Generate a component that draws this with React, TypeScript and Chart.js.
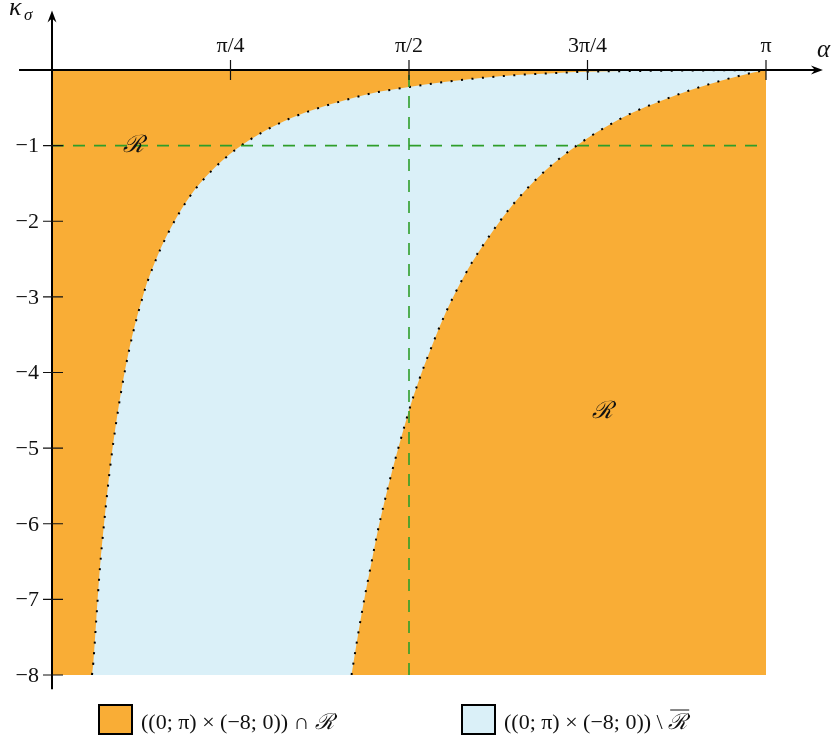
import React, { useEffect, useRef } from 'react';
import { Chart, registerables } from 'chart.js';

Chart.register(...registerables);

const PI = Math.PI;

// Boundary curves of the region
const leftCurveX = [0.176, 0.182, 0.195, 0.211, 0.229, 0.254, 0.286, 0.336, 0.406, 0.453, 0.512, 0.607, 0.700, 0.807, 0.924, 1.050, 1.184, 1.273, 1.409, 1.549, 1.734, 1.876, 2.064, 2.206, 2.345, 2.675, PI];
const leftCurveY = [-8, -7.83, -7.26, -6.58, -6.0, -5.3, -4.59, -3.75, -2.93, -2.54, -2.15, -1.67, -1.34, -1.055, -0.826, -0.637, -0.492, -0.413, -0.307, -0.235, -0.156, -0.108, -0.063, -0.042, -0.024, -0.01, 0];

const rightCurveX = [1.318, 1.329, 1.352, 1.377, 1.404, 1.431, 1.462, 1.496, 1.533, 1.572, 1.616, 1.665, 1.719, 1.779, 1.847, 1.923, 2.006, 2.099, 2.201, 2.311, 2.430, 2.553, 2.684, 2.817, 2.951, 3.086, PI];
const rightCurveY = [-8, -7.79, -7.37, -6.95, -6.54, -6.13, -5.72, -5.31, -4.9, -4.49, -4.09, -3.7, -3.3, -2.92, -2.55, -2.2, -1.86, -1.54, -1.25, -0.994, -0.764, -0.566, -0.403, -0.258, -0.135, -0.033, 0];

// Domain rectangle and reference lines
const domainX = [0, PI];
const domainTop = 0;
const domainBottom = -8;
const refLineY = -1;
const refLineX = PI / 2;

// Axes
const xAxisExtent = [-0.145, 3.392];
const yAxisExtent = [-8.19, 0.787];
const xTickValues = [PI / 4, PI / 2, (3 * PI) / 4, PI];
const xTickLabels = ['π/4', 'π/2', '3π/4', 'π'];
const yTickValues = [-1, -2, -3, -4, -5, -6, -7, -8];
const yTickLabels = ['−1', '−2', '−3', '−4', '−5', '−6', '−7', '−8'];

// Region labels
const regionLabelX = [0.36, 2.42];
const regionLabelY = [-1.0, -4.52];

const legendLabels = ['((0; π) × (−8; 0)) ∩ ', '((0; π) × (−8; 0)) \\ '];

const ORANGE = '#f9ad36';
const BLUE = '#daf0f8';
const GREEN = '#2e9e2a';
const SERIF = '"Liberation Serif", "DejaVu Serif", serif';
const SCRIPT_R = 'ℛ';

const toPoints = (xs: number[], ys: number[]) => xs.map((x, i) => ({ x, y: ys[i] }));

const decorPlugin = {
  id: 'decor',
  afterDraw(chart: any) {
    const { ctx, scales } = chart;
    const sx = scales.x;
    const sy = scales.y;
    const px = (v: number) => sx.getPixelForValue(v);
    const py = (v: number) => sy.getPixelForValue(v);
    ctx.save();

    const x0 = px(0);
    const y0 = py(0);

    // axis lines
    ctx.strokeStyle = '#000';
    ctx.lineWidth = 2;
    ctx.beginPath();
    ctx.moveTo(px(xAxisExtent[0]), y0);
    ctx.lineTo(px(xAxisExtent[1]) - 6, y0);
    ctx.moveTo(x0, py(yAxisExtent[0]));
    ctx.lineTo(x0, py(yAxisExtent[1]) + 6);
    ctx.stroke();

    // arrowheads
    ctx.fillStyle = '#000';
    const tipX = px(xAxisExtent[1]);
    ctx.beginPath();
    ctx.moveTo(tipX, y0);
    ctx.lineTo(tipX - 12, y0 - 4.5);
    ctx.lineTo(tipX - 8, y0);
    ctx.lineTo(tipX - 12, y0 + 4.5);
    ctx.closePath();
    ctx.fill();
    const tipY = py(yAxisExtent[1]);
    ctx.beginPath();
    ctx.moveTo(x0, tipY);
    ctx.lineTo(x0 - 4.5, tipY + 12);
    ctx.lineTo(x0, tipY + 8);
    ctx.lineTo(x0 + 4.5, tipY + 12);
    ctx.closePath();
    ctx.fill();

    // ticks
    ctx.lineWidth = 1.2;
    ctx.strokeStyle = '#111';
    ctx.beginPath();
    xTickValues.forEach((v) => {
      const x = px(v);
      ctx.moveTo(x, y0 - 10);
      ctx.lineTo(x, y0 + 10);
    });
    yTickValues.forEach((v) => {
      const y = py(v);
      ctx.moveTo(x0 - 9, y);
      ctx.lineTo(x0 + 11, y);
    });
    ctx.stroke();

    // tick labels
    ctx.fillStyle = '#111';
    ctx.font = `22px ${SERIF}`;
    ctx.textAlign = 'center';
    ctx.textBaseline = 'alphabetic';
    xTickValues.forEach((v, i) => {
      ctx.fillText(xTickLabels[i], px(v), y0 - 18);
    });
    ctx.textAlign = 'right';
    ctx.textBaseline = 'middle';
    yTickValues.forEach((v, i) => {
      ctx.fillText(yTickLabels[i], x0 - 13, py(v) + 1);
    });

    // axis titles
    ctx.textAlign = 'left';
    ctx.textBaseline = 'alphabetic';
    ctx.font = `italic 25px ${SERIF}`;
    ctx.fillText('α', px(xAxisExtent[1]) - 6, y0 - 13);
    ctx.font = `italic 26px ${SERIF}`;
    ctx.fillText('κ', 9, 15);
    ctx.font = `italic 17px ${SERIF}`;
    ctx.fillText('σ', 24, 20);

    // region labels
    ctx.textAlign = 'center';
    ctx.textBaseline = 'middle';
    ctx.font = `italic 24px "DejaVu Serif", serif`;
    regionLabelX.forEach((v, i) => {
      ctx.fillText(SCRIPT_R, px(v), py(regionLabelY[i]));
    });

    // legend
    const legendY = 705;
    const boxW = 33;
    const boxH = 29;
    const items = [
      { x: 99, color: ORANGE, label: legendLabels[0], bar: false },
      { x: 462, color: BLUE, label: legendLabels[1], bar: true },
    ];
    ctx.textAlign = 'left';
    ctx.textBaseline = 'alphabetic';
    items.forEach((it) => {
      ctx.fillStyle = it.color;
      ctx.fillRect(it.x, legendY, boxW, boxH);
      ctx.strokeStyle = '#000';
      ctx.lineWidth = 2;
      ctx.strokeRect(it.x, legendY, boxW, boxH);
      ctx.fillStyle = '#111';
      ctx.font = `22px ${SERIF}`;
      const tx = it.x + boxW + 9;
      const base = legendY + 24;
      ctx.fillText(it.label, tx, base);
      const w = ctx.measureText(it.label).width;
      ctx.font = `italic 22px "DejaVu Serif", serif`;
      ctx.fillText(SCRIPT_R, tx + w, base);
      if (it.bar) {
        const rw = ctx.measureText(SCRIPT_R).width;
        ctx.strokeStyle = '#111';
        ctx.lineWidth = 1;
        ctx.beginPath();
        ctx.moveTo(tx + w + 2, legendY + 5);
        ctx.lineTo(tx + w + rw + 2, legendY + 5);
        ctx.stroke();
      }
    });

    ctx.restore();
  },
};

export default function App() {
  const canvasRef = useRef<HTMLCanvasElement | null>(null);

  useEffect(() => {
    const canvas = canvasRef.current;
    if (!canvas) return;
    const dotted = {
      borderColor: '#000',
      borderWidth: 2,
      borderDash: [2, 8.5],
      borderCapStyle: 'butt',
      pointRadius: 0,
      cubicInterpolationMode: 'monotone',
    };
    const chart = new Chart(canvas, {
      type: 'line',
      data: {
        datasets: [
          {
            label: 'refH',
            data: [{ x: domainX[0], y: refLineY }, { x: domainX[1], y: refLineY }],
            borderColor: GREEN,
            borderWidth: 1.6,
            borderDash: [12, 9],
            pointRadius: 0,
            fill: false,
          },
          {
            label: 'refV',
            data: [{ x: refLineX, y: domainBottom }, { x: refLineX, y: domainTop }],
            borderColor: GREEN,
            borderWidth: 1.6,
            borderDash: [12, 9],
            pointRadius: 0,
            fill: false,
          },
          {
            label: 'right',
            data: toPoints(rightCurveX, rightCurveY),
            ...dotted,
            backgroundColor: ORANGE,
            fill: { value: domainBottom },
          },
          {
            label: 'left',
            data: toPoints(leftCurveX, leftCurveY),
            ...dotted,
            backgroundColor: BLUE,
            fill: { value: domainBottom },
          },
          {
            label: 'domain',
            data: [{ x: domainX[0], y: domainTop }, { x: domainX[1], y: domainTop }],
            borderWidth: 0,
            borderColor: 'rgba(0,0,0,0)',
            backgroundColor: ORANGE,
            pointRadius: 0,
            fill: { value: domainBottom },
          },
        ],
      } as any,
      options: {
        animation: false,
        responsive: false,
        devicePixelRatio: 1,
        layout: { padding: { left: 52, top: 70, right: 68, bottom: 68 } },
        scales: {
          x: { type: 'linear', min: 0, max: PI, display: false },
          y: { type: 'linear', min: domainBottom, max: domainTop, display: false },
        },
        plugins: {
          legend: { display: false },
          tooltip: { enabled: false },
          filler: { propagate: false },
        },
      } as any,
      plugins: [decorPlugin],
    });
    return () => chart.destroy();
  }, []);

  return (
    <div style={{ position: 'absolute', left: 0, top: 0, width: 834, height: 743, background: '#fff' }}>
      <canvas ref={canvasRef} width={834} height={743} style={{ display: 'block' }} />
    </div>
  );
}
